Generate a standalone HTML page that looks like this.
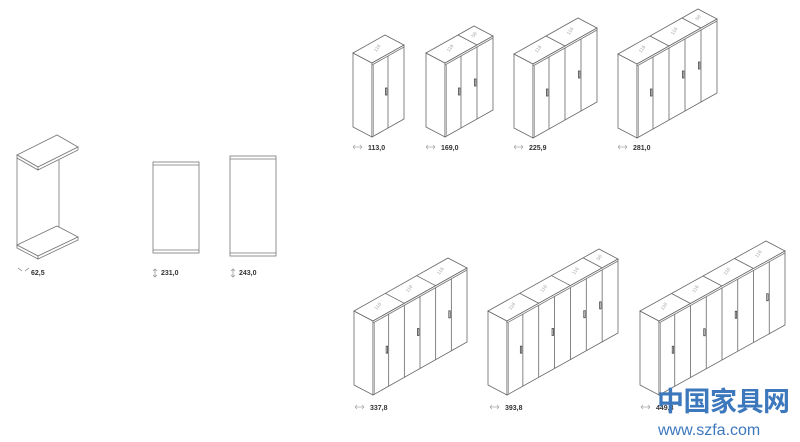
<!DOCTYPE html>
<html><head><meta charset="utf-8"><style>
html,body{margin:0;padding:0;background:#fff;}
svg{display:block}
.l{font-family:"Liberation Sans",sans-serif;font-size:7px;font-weight:bold;fill:#333}
.wm{font-family:"Liberation Sans","Noto Sans CJK SC",sans-serif;fill:#3d78bd}
</style></head><body>
<svg id="s" width="800" height="442" viewBox="0 0 800 442" xmlns="http://www.w3.org/2000/svg">
<g fill="#fff" stroke="#777" stroke-width="0.8">
<line x1="59" y1="160" x2="59" y2="229"/>
<polygon points="17,155 57,135 78,147 38,167"/>
<polygon points="17,155 38,167 38,170 17,158"/>
<polygon points="38,167 78,147 78,150 38,170"/>
<line x1="17" y1="158" x2="17" y2="248"/>
<polygon points="17,245 57,226 78,237 38,256"/>
<polygon points="17,245 38,256 38,259 17,248"/>
<polygon points="38,256 78,237 78,240 38,259"/>
<rect x="153" y="162" width="46" height="91"/>
<line x1="153" y1="165" x2="199" y2="165"/>
<line x1="153" y1="250" x2="199" y2="250"/>
<rect x="230" y="156" width="46" height="100"/>
<line x1="230" y1="159" x2="276" y2="159"/>
<line x1="230" y1="253" x2="276" y2="253"/>
</g>
<g id="w"></g>
<g stroke="#999" stroke-width="0.8" fill="none">
<path d="M18,268 l4,3 m3,0 l4,-3"/>
<path d="M155,269 v8 M153,271 l2,-2 l2,2 M153,275 l2,2 l2,-2"/>
<path d="M233,269 v8 M231,271 l2,-2 l2,2 M231,275 l2,2 l2,-2"/>
</g>
<text class="l" x="31" y="275">62,5</text>
<text class="l" x="161" y="275">231,0</text>
<text class="l" x="239" y="275">243,0</text>
<text class="l" x="368" y="150">113,0</text>
<text class="l" x="441" y="150">169,0</text>
<text class="l" x="529" y="150">225,9</text>
<text class="l" x="633" y="150">281,0</text>
<text class="l" x="370" y="410">337,8</text>
<text class="l" x="505" y="410">393,8</text>
<text class="l" x="656" y="410">449,8</text>
<g stroke="#aaa" stroke-width="0.8" fill="none">
<path d="M353,147 h9 m-9,0 l2,-2 m-2,2 l2,2 m7,-2 l-2,-2 m2,2 l-2,2"/>
<path d="M426,147 h9 m-9,0 l2,-2 m-2,2 l2,2 m7,-2 l-2,-2 m2,2 l-2,2"/>
<path d="M514,147 h9 m-9,0 l2,-2 m-2,2 l2,2 m7,-2 l-2,-2 m2,2 l-2,2"/>
<path d="M618,147 h9 m-9,0 l2,-2 m-2,2 l2,2 m7,-2 l-2,-2 m2,2 l-2,2"/>
<path d="M355,407 h9 m-9,0 l2,-2 m-2,2 l2,2 m7,-2 l-2,-2 m2,2 l-2,2"/>
<path d="M490,407 h9 m-9,0 l2,-2 m-2,2 l2,2 m7,-2 l-2,-2 m2,2 l-2,2"/>
<path d="M641,407 h9 m-9,0 l2,-2 m-2,2 l2,2 m7,-2 l-2,-2 m2,2 l-2,2"/>
</g>
<text class="wm" x="657" y="411" font-size="27" font-weight="bold" letter-spacing="-0.5">中国家具网</text>
<text class="wm" x="658" y="435" font-size="16">www.szfa.com</text>
</svg>
<script>
var g=document.getElementById('w'),out='';
function P(a){return a.map(function(p){return p[0].toFixed(1)+','+p[1].toFixed(1)}).join(' ');}
function W(x0,y0,dx,dy,n,hs,mods,labs){
 var H=74,ex=-19,ey=-10;
 var A=[x0,y0],B=[x0+dx,y0+dy],C=[x0+dx,y0+dy-H],D=[x0,y0-H];
 var s='<g fill="#fff" stroke="#666" stroke-width="0.8">';
 s+='<polygon points="'+P([A,D,[D[0]+ex,D[1]+ey],[A[0]+ex,A[1]+ey]])+'"/>';
 s+='<polygon points="'+P([D,C,[C[0]+ex,C[1]+ey],[D[0]+ex,D[1]+ey]])+'"/>';
 s+='<polygon points="'+P([A,B,C,D])+'"/>';
 s+='<line x1="'+D[0]+'" y1="'+(D[1]+2)+'" x2="'+C[0]+'" y2="'+(C[1]+2)+'" stroke="#777"/>';
 s+='<line x1="'+(x0+1.5)+'" y1="'+(y0-H+2)+'" x2="'+(x0+1.5)+'" y2="'+y0+'" stroke="#999"/>';
 for(var i=1;i<n;i++){var x=x0+dx*i/n,y=y0+dy*i/n;s+='<line x1="'+x+'" y1="'+y+'" x2="'+x+'" y2="'+(y-H+2)+'"/>';}
 hs.forEach(function(i){var x=x0+dx*i/n-2.5,y=y0+dy*i/n-H/2;s+='<rect x="'+x+'" y="'+(y-3)+'" width="1.4" height="7" fill="none" stroke="#444"/>';});
 var tot=mods.reduce(function(p,q){return p+q},0),t=0;
 mods.forEach(function(m,k){var a=t/tot,b=(t+m)/tot;
  if(k>0){s+='<line x1="'+(D[0]+dx*a)+'" y1="'+(D[1]+dy*a)+'" x2="'+(D[0]+dx*a+ex)+'" y2="'+(D[1]+dy*a+ey)+'"/>';}
  var c=(a+b)/2,cx=D[0]+dx*c+ex/2,cy=D[1]+dy*c+ey/2;
  s+='<text x="'+cx+'" y="'+cy+'" font-family="Liberation Sans" font-size="5" fill="#aaa" stroke="none" text-anchor="middle" transform="rotate(-55 '+cx+' '+cy+')">'+labs[k]+'</text>';
  t+=m;});
 s+='</g>';out+=s;}
W(372,137,32,-18,2,[1],[1],['116']);
W(445,137,48,-27,3,[1,2],[2,1],['116','56']);
W(533,138,64,-36,4,[1,3],[2,2],['116','116']);
W(637,138,80,-45,5,[1,3,4],[2,2,1],['116','116','56']);
W(373,395,94,-53,6,[1,3,5],[2,2,2],['116','116','116']);
W(507,395,111,-62,7,[1,3,5,6],[2,2,2,1],['116','116','116','56']);
W(659,395,126,-70,8,[1,3,5,7],[2,2,2,2],['116','116','116','116']);
g.innerHTML=out;
</script>
</body></html>
